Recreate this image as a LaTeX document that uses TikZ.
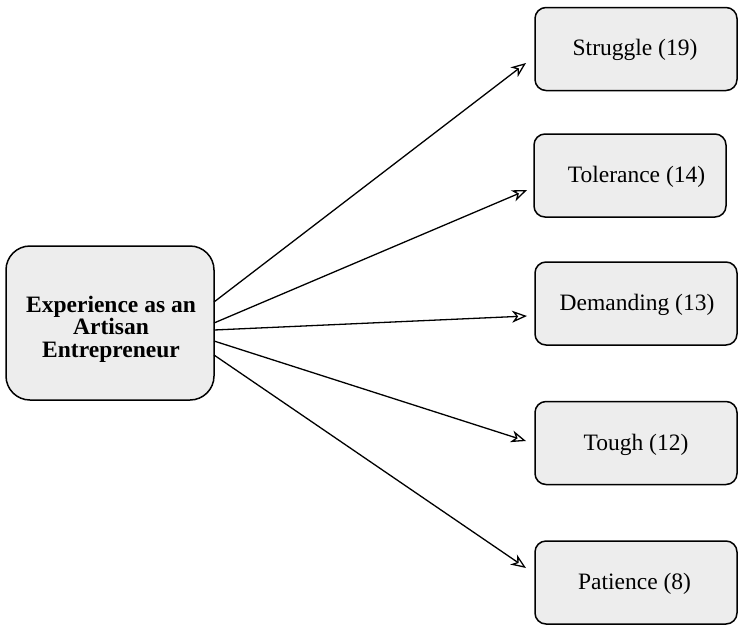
\documentclass[tikz,border=0pt]{standalone}
\usepackage{fontspec}
\setmainfont{Liberation Serif}
\usetikzlibrary{arrows.meta}
\definecolor{boxfill}{HTML}{EDEDED}
\tikzset{
  catbox/.style={draw=black, fill=boxfill, line width=1.5pt, rounded corners=11pt, minimum height=83pt, inner sep=0pt},
  mainbox/.style={draw=black, fill=boxfill, line width=1.5pt, rounded corners=24pt, minimum width=208pt, minimum height=154pt, inner sep=0pt},
  maintext/.style={align=center, inner sep=0pt, font=\fontsize{23.5}{22.5}\selectfont\bfseries},
  cattext/.style={font=\fontsize{23.5}{26}\selectfont, inner sep=0pt},
  link/.style={line width=1.3pt, -{Stealth[open, length=15pt, width=12pt, inset=4.5pt]}}
}
\begin{document}
\begin{tikzpicture}[x=1pt,y=-1pt]
\useasboundingbox (0,0) rectangle (738,624);
\node[mainbox] (exp) at (110,323) {};
\node[maintext] (expt) at (111,329) {Experience as an\\Artisan\\Entrepreneur};
\node[catbox, minimum width=202pt] (str) at (636,49) {};
\node[cattext] (strt) at (635,50) {Struggle (19)};
\node[catbox, minimum width=192pt] (tol) at (630,175.5) {};
\node[cattext] (tolt) at (636.5,177) {Tolerance (14)};
\node[catbox, minimum width=202pt] (dem) at (636,303.5) {};
\node[cattext] (demt) at (637,305) {Demanding (13)};
\node[catbox, minimum width=202pt] (tou) at (636,443) {};
\node[cattext] (tout) at (636,445) {Tough (12)};
\node[catbox, minimum width=202pt] (pat) at (636,582.5) {};
\node[cattext] (patt) at (634.5,584) {Patience (8)};
\coordinate (s1) at (214,302);
\coordinate (s2) at (214,323);
\coordinate (s3) at (214,330);
\coordinate (s4) at (214,341);
\coordinate (s5) at (214,355);
\coordinate (e1) at (526,63);
\coordinate (e2) at (527,190);
\coordinate (e3) at (527,316);
\coordinate (e4) at (526,441);
\coordinate (e5) at (526,568);
\draw[link] (s1) -- (e1);
\draw[link] (s2) -- (e2);
\draw[link] (s3) -- (e3);
\draw[link] (s4) -- (e4);
\draw[link] (s5) -- (e5);
\end{tikzpicture}
\end{document}
